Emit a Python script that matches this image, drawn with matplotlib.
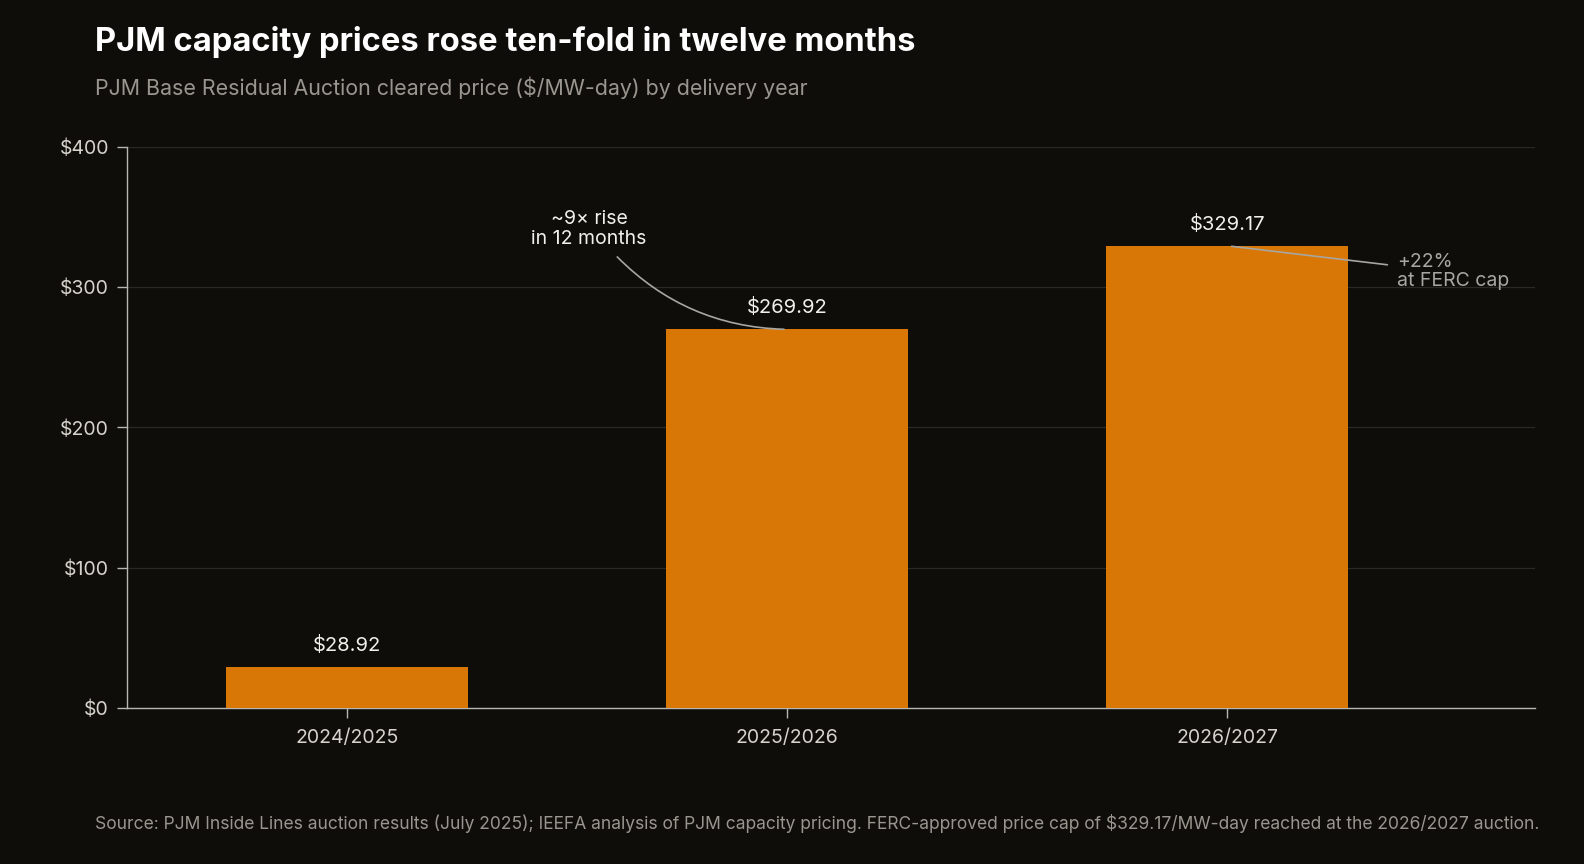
import matplotlib
matplotlib.use("Agg")
import matplotlib.pyplot as plt

categories = ["2024/2025", "2025/2026", "2026/2027"]
prices = [28.92, 269.92, 329.17]
value_labels = ["$28.92", "$269.92", "$329.17"]
y_ticks = [0, 100, 200, 300, 400]
y_tick_labels = ["$0", "$100", "$200", "$300", "$400"]

BG = "#0e0d0a"
BAR = "#d97706"
FONT = ["Inter", "DejaVu Sans"]
plt.rcParams["font.family"] = FONT

fig = plt.figure(figsize=(15.84, 8.64), dpi=100, facecolor=BG)
ax = fig.add_axes([0.0802, 0.1806, 0.889, 0.6493], facecolor=BG)

x = list(range(len(categories)))
ax.bar(x, prices, width=0.55, color=BAR, zorder=3)

for xi, v, lab in zip(x, prices, value_labels):
    ax.text(xi, v + 9, lab, ha="center", va="bottom", color="#f2f0ea", fontsize=14.5)

ax.set_xlim(-0.5, 2.7)
ax.set_ylim(0, 400)
ax.set_yticks(y_ticks)
ax.set_yticklabels(y_tick_labels)
ax.set_xticks(x)
ax.set_xticklabels(categories)
ax.grid(axis="y", color="#2a2925", linewidth=0.9, zorder=0)
ax.tick_params(axis="both", colors="#b8b6b0", labelcolor="#d6d3cc", labelsize=14, length=7, width=1)
ax.tick_params(axis="x", pad=8)
ax.tick_params(axis="y", pad=6)
for s in ["top", "right"]:
    ax.spines[s].set_visible(False)
for s in ["left", "bottom"]:
    ax.spines[s].set_color("#b8b6b0")
    ax.spines[s].set_linewidth(1)

# annotation 1
ax.text(0.55, 341.5, "~9× rise\nin 12 months", ha="center", va="center", color="#f2f0ea",
        fontsize=14, linespacing=1.1)
ax.annotate("", xy=(0.993, 270), xytext=(0.614, 321.6),
            arrowprops=dict(arrowstyle="-", color="#a8a6a0", lw=1.2,
                            connectionstyle="arc3,rad=0.2", shrinkA=0, shrinkB=0), zorder=4)

# annotation 2
ax.text(2.386, 311, "+22%\nat FERC cap", ha="left", va="center", color="#a8a6a0",
        fontsize=14, linespacing=1.1)
ax.annotate("", xy=(2.364, 316), xytext=(2.01, 329.17),
            arrowprops=dict(arrowstyle="-", color="#a8a6a0", lw=1.2,
                            shrinkA=0, shrinkB=0), zorder=4)

fig.text(0.06, 0.951, "PJM capacity prices rose ten-fold in twelve months", ha="left", va="center",
         color="#ffffff", fontsize=23.6, fontweight="bold")
fig.text(0.06, 0.898, "PJM Base Residual Auction cleared price ($/MW-day) by delivery year",
         ha="left", va="center", color="#9a968f", fontsize=15.4)
fig.text(0.06, 0.047,
         "Source: PJM Inside Lines auction results (July 2025); IEEFA analysis of PJM capacity pricing. "
         "FERC-approved price cap of $329.17/MW-day reached at the 2026/2027 auction.",
         ha="left", va="center", color="#9a968f", fontsize=12.55)

fig.savefig("out.png", dpi=100, facecolor=BG)
